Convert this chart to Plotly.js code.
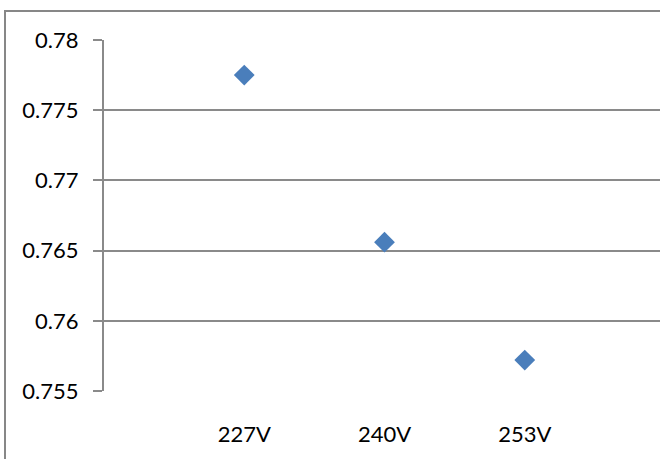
<!DOCTYPE html>
<html>
<head>
<meta charset="utf-8">
<script src="https://cdn.plot.ly/plotly-3.0.1.min.js"></script>
<style>
  html, body { margin: 0; padding: 0; background: #ffffff; overflow: hidden; }
  #frame { position: absolute; left: 4px; top: 10px; width: 800px; height: 600px;
           border: 2px solid #878787; box-sizing: border-box; }
  #chart { position: absolute; left: 0; top: 0; width: 720px; height: 480px; }
</style>
</head>
<body>
<div id="frame"></div>
<div id="chart"></div>
<script>
const categories = ['227V', '240V', '253V'];
const values = [0.7775, 0.7656, 0.7572];
const yTicks = [0.755, 0.76, 0.765, 0.77, 0.775, 0.78];
const yTickText = ['0.755', '0.76', '0.765', '0.77', '0.775', '0.78'];

const trace = {
  type: 'scatter',
  mode: 'markers',
  x: categories,
  y: values,
  marker: { symbol: 'diamond', size: 16, color: '#4a7ebb', line: { width: 0 } },
  hoverinfo: 'skip'
};

const layout = {
  width: 720, height: 480,
  margin: { l: 104, r: 55, t: 40, b: 89 },
  paper_bgcolor: 'rgba(0,0,0,0)',
  plot_bgcolor: 'rgba(0,0,0,0)',
  showlegend: false,
  font: { family: 'Lato, "Open Sans", sans-serif', color: '#000000', size: 22 },
  xaxis: {
    type: 'category',
    range: [-1, 3],
    showgrid: false,
    zeroline: false,
    showline: false,
    ticks: 'outside', ticklen: 24, tickcolor: 'rgba(0,0,0,0)',
    tickfont: { size: 22 }
  },
  yaxis: {
    range: [0.755, 0.78],
    tickvals: yTicks,
    ticktext: yTickText,
    showgrid: true, gridcolor: '#8a8a8a', gridwidth: 2,
    zeroline: false,
    showline: true, linecolor: '#8a8a8a', linewidth: 2,
    ticks: 'outside', ticklen: 9, tickcolor: '#8a8a8a', tickwidth: 2,
    ticklabelstandoff: 10,
    tickfont: { size: 22 }
  }
};

Plotly.newPlot('chart', [trace], layout, { staticPlot: true, displayModeBar: false });
</script>
</body>
</html>
